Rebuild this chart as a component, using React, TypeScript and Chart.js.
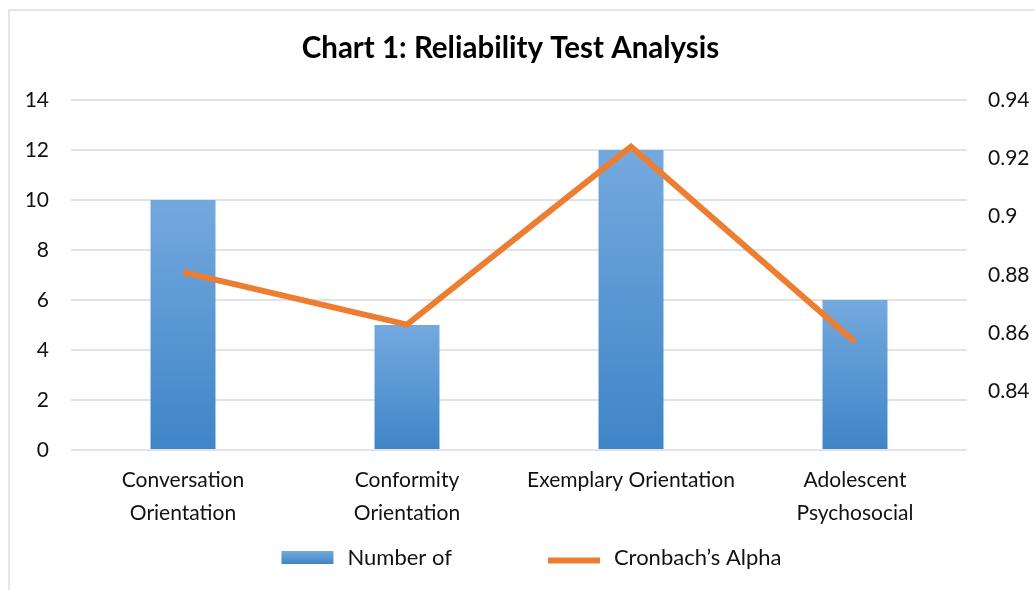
import { useEffect, useRef } from "react";
import { Chart, registerables } from "chart.js";

Chart.register(...registerables);

const titleText = "Chart 1: Reliability Test Analysis";
const categories = [
  ["Conversation", "Orientation"],
  ["Conformity", "Orientation"],
  ["Exemplary Orientation"],
  ["Adolescent", "Psychosocial"],
];
const numberOfItems = [10, 5, 12, 6];
const cronbachAlpha = [0.881, 0.863, 0.924, 0.857];
const barLabel = "Number of";
const lineLabel = "Cronbach\u2019s Alpha";
const leftMin = 0;
const leftMax = 14;
const leftStep = 2;
const rightMin = 0.82;
const rightMax = 0.94;
const rightStep = 0.02;

const FONT = "Lato";
const TEXT = "#111111";
const GRID = "#dfe2e9";
const BAR_TOP = "#74a9de";
const BAR_BOTTOM = "#3f85c7";
const ORANGE = "#ed7d31";

const legendPlugin = {
  id: "customLegend",
  afterDraw(chart: any) {
    const { ctx } = chart;
    const ds = chart.data.datasets;
    ctx.save();
    ctx.font = `22px ${FONT}`;
    ctx.textBaseline = "middle";
    ctx.textAlign = "left";
    ctx.fillStyle = TEXT;
    const box = 52;
    const gap = 14;
    const itemGap = 96;
    const w0 = ctx.measureText(ds[0].label).width;
    const w1 = ctx.measureText(ds[1].label).width;
    const total = box + gap + w0 + itemGap + box + gap + w1;
    let x = 521.5 - total / 2;
    const y = 546.5;
    const g = ctx.createLinearGradient(0, y - 6.5, 0, y + 6.5);
    g.addColorStop(0, BAR_TOP);
    g.addColorStop(1, BAR_BOTTOM);
    ctx.fillStyle = g;
    ctx.fillRect(x, y - 6.5, box, 13);
    x += box + gap;
    ctx.fillStyle = TEXT;
    ctx.fillText(ds[0].label, x, y);
    x += w0 + itemGap;
    ctx.strokeStyle = ds[1].borderColor;
    ctx.lineWidth = 6;
    ctx.beginPath();
    ctx.moveTo(x, y + 3);
    ctx.lineTo(x + box, y + 3);
    ctx.stroke();
    x += box + gap;
    ctx.fillText(ds[1].label, x, y);
    ctx.restore();
  },
};

export default function App() {
  const ref = useRef<HTMLCanvasElement>(null);
  useEffect(() => {
    if (!ref.current) return;
    const chart = new Chart(ref.current, {
      type: "bar",
      data: {
        labels: categories,
        datasets: [
          {
            type: "bar",
            label: barLabel,
            data: numberOfItems,
            yAxisID: "y",
            order: 1,
            barPercentage: 0.29,
            categoryPercentage: 1,
            backgroundColor: (c: any) => {
              const chart = c.chart;
              const scale = chart.scales?.y;
              if (!chart.chartArea || !scale || c.raw == null) return BAR_BOTTOM;
              const top = scale.getPixelForValue(c.raw);
              const bottom = scale.getPixelForValue(0);
              const g = chart.ctx.createLinearGradient(0, top, 0, bottom);
              g.addColorStop(0, BAR_TOP);
              g.addColorStop(1, BAR_BOTTOM);
              return g;
            },
          },
          {
            type: "line",
            label: lineLabel,
            data: cronbachAlpha,
            yAxisID: "y1",
            order: 0,
            borderColor: ORANGE,
            backgroundColor: ORANGE,
            borderWidth: 6,
            borderCapStyle: "butt",
            borderJoinStyle: "miter",
            pointRadius: 0,
            tension: 0,
          },
        ] as any,
      },
      options: {
        responsive: false,
        animation: false,
        devicePixelRatio: 1,
        layout: { padding: { top: 0, left: 0, right: 24, bottom: 47 } },
        plugins: {
          legend: { display: false },
          tooltip: { enabled: false },
          title: {
            display: true,
            text: titleText,
            color: "#000000",
            font: { family: FONT, size: 29.5, weight: "bold", lineHeight: 1.2 },
            padding: { top: 19.3, bottom: 34.3 },
          },
        },
        scales: {
          x: {
            grid: { display: false, drawTicks: false },
            border: { display: false },
            ticks: {
              color: TEXT,
              font: { family: FONT, size: 21, lineHeight: 33 / 21 },
              padding: 13.5,
              maxRotation: 0,
              autoSkip: false,
            },
          },
          y: {
            position: "left",
            min: leftMin,
            max: leftMax,
            grid: { color: GRID, lineWidth: 2, drawTicks: false },
            border: { display: false },
            ticks: {
              stepSize: leftStep,
              color: TEXT,
              font: { family: FONT, size: 21 },
              padding: 22,
            },
            afterFit: (s: any) => {
              s.width = 61;
            },
          },
          y1: {
            position: "right",
            min: rightMin,
            max: rightMax,
            grid: { drawOnChartArea: false, drawTicks: false },
            border: { display: false },
            ticks: {
              stepSize: rightStep,
              color: TEXT,
              font: { family: FONT, size: 21 },
              padding: 21,
              callback: (v: any) => {
                const n = Number(v);
                if (n < rightMin + rightStep / 2) return "";
                return String(Number(n.toFixed(2)));
              },
            },
            afterFit: (s: any) => {
              s.width = 44;
              s._computeLabelArea = () => undefined;
            },
          },
        },
      } as any,
      plugins: [legendPlugin],
    });
    return () => chart.destroy();
  }, []);

  return (
    <div
      style={{
        position: "fixed",
        left: 8,
        top: 9,
        width: 1027,
        height: 581,
        boxSizing: "border-box",
        borderTop: "2px solid #e3e5ea",
        borderLeft: "2px solid #e3e5ea",
        background: "#ffffff",
      }}
    >
      <canvas ref={ref} width={1025} height={579} style={{ display: "block", width: 1025, height: 579 }} />
    </div>
  );
}
